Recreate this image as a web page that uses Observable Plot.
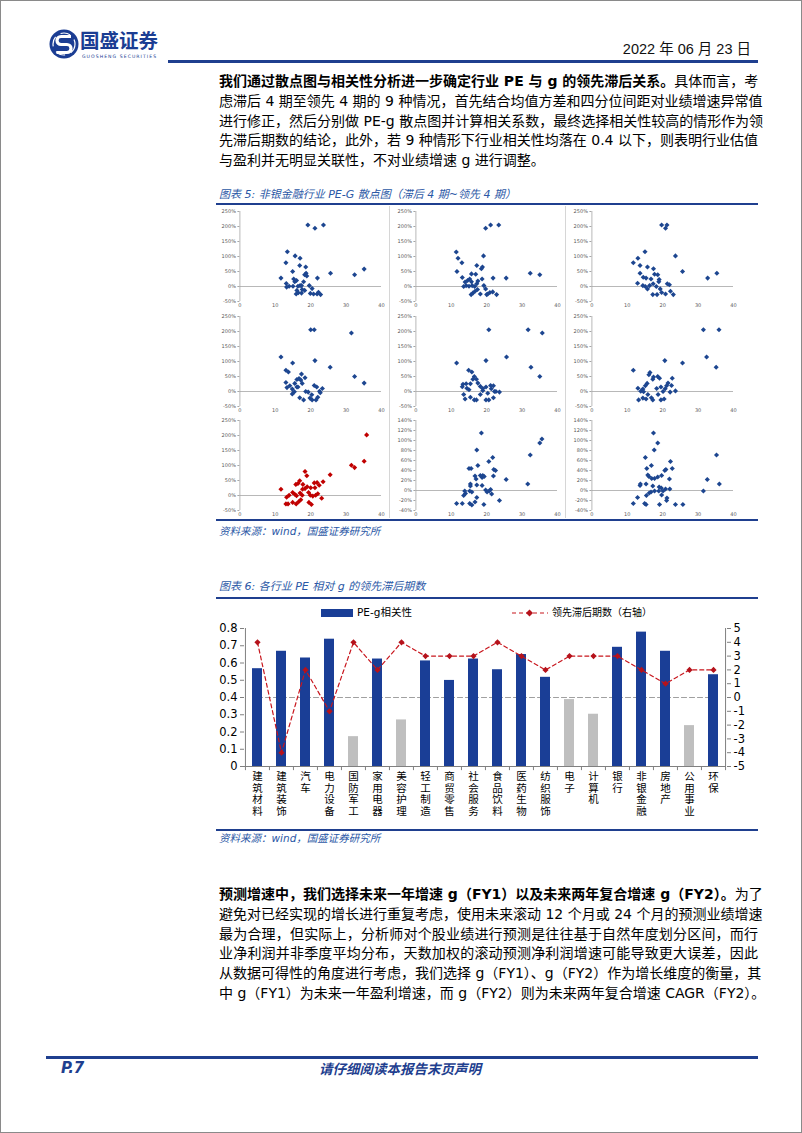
<!DOCTYPE html>
<html>
<head>
<meta charset="utf-8">
<script src="https://cdn.jsdelivr.net/npm/d3@7"></script>
<script src="https://cdn.jsdelivr.net/npm/@observablehq/plot@0.6"></script>
<style>
html,body{margin:0;padding:0;background:#fff;}
#page{position:relative;width:802px;height:1133px;box-sizing:border-box;border:1px solid #8a8a8a;overflow:hidden;font-family:"DejaVu Sans","Noto Sans CJK SC",sans-serif;color:#000;}
.a{position:absolute;white-space:nowrap;}
.hl{position:absolute;background:#1f3f8f;}
.para{position:absolute;left:218px;width:539px;font-size:14px;}
.para div{height:19.8px;line-height:19.8px;white-space:nowrap;text-align:justify;text-align-last:justify;}
.para div.last{text-align-last:left;}
.cap{position:absolute;left:218px;font-size:11px;font-style:italic;color:#2b58a6;line-height:14px;white-space:nowrap;}
#grid{position:absolute;left:213px;top:204px;display:grid;grid-template-columns:176px 176px 176px;grid-template-rows:105px 104px 104px;}
#grid svg, #bars svg{display:block;}
.vdiv{position:absolute;width:1px;background:#d6d6d6;top:205px;height:312px;}
</style>
</head>
<body>
<div id="page">
  <!-- header -->
  <svg class="a" style="left:48px;top:28px" width="30" height="30" viewBox="-15 -15 30 30">
    <circle r="14.5" fill="#1b3d93"/>
    <path d="M7,-7.5 H-3 A4,4 0 0 0 -3,0.5 H3 A4,4 0 0 1 3,8.5 H-7.5" fill="none" stroke="#fff" stroke-width="3.2"/>
    <circle r="11" fill="none" stroke="#fff" stroke-width="1.2" stroke-dasharray="10,6"/>
  </svg>
  <div class="a" style="left:79px;top:29px;font-family:'Noto Sans CJK SC';font-weight:bold;font-size:19.5px;line-height:20px;color:#1b3d93;">国盛证券</div>
  <div class="a" style="left:81px;top:53px;font-size:4.6px;letter-spacing:1.05px;color:#1b3d93;line-height:5px;">GUOSHENG SECURITIES</div>
  <div class="a" style="right:50px;top:39px;font-family:'Liberation Sans','Noto Sans CJK SC';font-size:14.5px;line-height:18px;color:#111;">2022 年 06 月 23 日</div>
  <div class="hl" style="left:167px;top:59px;width:590px;height:2.5px;"></div>

  <!-- paragraph 1 -->
  <div class="para" style="top:71px;">
    <div><b>我们通过散点图与相关性分析进一步确定行业 PE 与 g 的领先滞后关系。</b>具体而言，考</div>
    <div>虑滞后 4 期至领先 4 期的 9 种情况，首先结合均值方差和四分位间距对业绩增速异常值</div>
    <div>进行修正，然后分别做 PE-g 散点图并计算相关系数，最终选择相关性较高的情形作为领</div>
    <div>先滞后期数的结论，此外，若 9 种情形下行业相关性均落在 0.4 以下，则表明行业估值</div>
    <div class="last">与盈利并无明显关联性，不对业绩增速 g 进行调整。</div>
  </div>

  <!-- figure 5 -->
  <div class="cap" style="top:187px;">图表 5: 非银金融行业 PE-G 散点图（滞后 4 期~领先 4 期）</div>
  <div class="hl" style="left:215px;top:202px;width:542px;height:2px;"></div>
  <div class="vdiv" style="left:388px;"></div>
  <div class="vdiv" style="left:564px;"></div>
  <div id="grid"></div>
  <div class="hl" style="left:215px;top:518px;width:542px;height:1.5px;"></div>
  <div class="cap" style="top:523px;font-size:10.5px;">资料来源：wind，国盛证券研究所</div>

  <!-- figure 6 -->
  <div class="cap" style="top:579px;">图表 6: 各行业 PE 相对 g 的领先滞后期数</div>
  <div class="hl" style="left:215px;top:596px;width:542px;height:2px;"></div>
  <div class="a" style="left:319.5px;top:608px;width:32.5px;height:7.5px;background:#1a3e96;"></div>
  <div class="a" style="left:356px;top:604px;font-size:10.5px;line-height:15px;">PE-g相关性</div>
  <svg class="a" style="left:510px;top:605px" width="38" height="14">
    <line x1="1" y1="7" x2="37" y2="7" stroke="#c8161d" stroke-width="1.2" stroke-dasharray="4,3"/>
    <path d="M18.5,3.5 L22,7 L18.5,10.5 L15,7 Z" fill="#b5121b"/>
  </svg>
  <div class="a" style="left:551px;top:604px;font-size:10px;line-height:15px;">领先滞后期数（右轴）</div>
  <div id="bars" class="a" style="left:215px;top:620px;"></div>
  <div class="hl" style="left:215px;top:828px;width:542px;height:1.5px;"></div>
  <div class="cap" style="top:830px;font-size:10.5px;">资料来源：wind，国盛证券研究所</div>

  <!-- paragraph 2 -->
  <div class="para" style="top:884px;">
    <div><b>预测增速中，我们选择未来一年增速 g（FY1）以及未来两年复合增速 g（FY2）。</b>为了</div>
    <div>避免对已经实现的增长进行重复考虑，使用未来滚动 12 个月或 24 个月的预测业绩增速</div>
    <div>最为合理，但实际上，分析师对个股业绩进行预测是往往基于自然年度划分区间，而行</div>
    <div>业净利润并非季度平均分布，天数加权的滚动预测净利润增速可能导致更大误差，因此</div>
    <div>从数据可得性的角度进行考虑，我们选择 g（FY1）、g（FY2）作为增长维度的衡量，其</div>
    <div class="last">中 g（FY1）为未来一年盈利增速，而 g（FY2）则为未来两年复合增速 CAGR（FY2）。</div>
  </div>

  <!-- footer -->
  <div class="hl" style="left:45px;top:1055px;width:712px;height:2.5px;"></div>
  <div class="a" style="left:60px;top:1058px;font-size:15px;font-weight:bold;font-style:italic;color:#1f3f8f;line-height:18px;">P.7</div>
  <div class="a" style="left:318px;top:1058px;font-family:'Noto Sans CJK SC';font-size:13.5px;font-weight:bold;font-style:italic;color:#1f3f8f;line-height:18px;">请仔细阅读本报告末页声明</div>
</div>

<script>
// ---------- Figure 6 data ----------
const categories = ["建筑材料","建筑装饰","汽车","电力设备","国防军工","家用电器","美容护理","轻工制造","商贸零售","社会服务","食品饮料","医药生物","纺织服饰","电子","计算机","银行","非银金融","房地产","公用事业","环保"];
const correlation = [0.567,0.668,0.629,0.738,0.173,0.623,0.270,0.612,0.499,0.623,0.561,0.649,0.517,0.388,0.303,0.691,0.779,0.668,0.237,0.532];
const leadLag = [4,-4,2,-1,4,2,4,3,3,3,4,3,2,3,3,3,2,1,2,2];
const leftTicks = [0,0.1,0.2,0.3,0.4,0.5,0.6,0.7,0.8];
const rightTicks = [-5,-4,-3,-2,-1,0,1,2,3,4,5];
const threshold = 0.4;

// ---------- Figure 5 data: [PE, g(%)] per panel, 滞后4期 ... 领先4期 ----------
const panelLag4 = [[19.2,205],[21.2,194],[23.6,205],[13.4,116],[13.0,79],[15.6,102],[17.0,94],[16.9,70],[18.6,65],[11.6,28],[14.9,50],[18.7,44],[18.3,39],[18.9,35],[21.9,28],[25.6,44],[32.4,39],[35.1,58],[15.2,25],[15.5,16],[16.0,20],[13.1,10],[13.2,-2],[13.9,1],[15.0,1],[16.4,1],[17.0,3],[17.4,3],[17.6,-10],[15.9,-25],[16.5,-21],[17.4,-22],[18.0,16],[19.6,3],[20.4,-7],[19.9,-23],[20.8,-25],[21.8,-25],[22.2,-19],[22.8,-27],[18.3,-13],[16.1,-13]];
const panelLag3 = [[19.7,194],[21.1,205],[23.4,205],[11.4,115],[11.9,94],[13.0,79],[19.1,102],[17.2,70],[18.8,65],[18.5,59],[11.6,50],[13.1,30],[15.7,42],[16.9,41],[21.8,28],[25.5,28],[32.3,44],[35.0,39],[13.9,15],[14.6,20],[15.2,25],[15.7,16],[13.5,0],[14.2,3],[15.0,1],[15.9,3],[16.6,0],[17.2,9],[17.5,18],[18.7,25],[19.2,3],[19.7,-8],[18.2,-25],[20.0,-27],[20.9,-20],[21.7,-18],[22.8,-27],[16.1,-22],[16.7,-16],[17.4,-10],[20.3,-25],[15.6,-27]];
const panelLag2 = [[19.7,205],[20.8,194],[21.2,205],[13.0,94],[11.7,79],[15.0,116],[13.6,70],[15.7,65],[17.4,59],[23.6,102],[25.6,50],[32.7,28],[35.3,44],[13.6,44],[14.5,31],[15.3,28],[16.7,25],[17.7,41],[18.6,39],[19.0,23],[12.9,11],[14.4,3],[15.1,0],[16.3,3],[17.3,9],[18.2,0],[18.9,16],[19.3,-8],[17.2,-27],[18.4,-27],[19.7,-20],[20.8,-25],[21.3,9],[21.9,6],[22.2,-16],[23.0,-27],[15.7,-8]];
const panelLag1 = [[20.0,206],[21.0,206],[31.5,195],[11.6,115],[14.9,95],[21.2,103],[25.5,81],[32.4,50],[35.1,28],[13.0,71],[13.7,65],[17.4,58],[18.4,46],[13.0,30],[15.5,27],[16.1,40],[16.7,43],[17.2,38],[17.6,27],[13.3,13],[14.1,19],[14.8,8],[15.4,-1],[16.1,15],[14.8,-8],[18.6,0],[19.3,-2],[20.3,-11],[21.0,20],[21.7,15],[22.5,1],[23.3,10],[22.7,-4],[16.9,-21],[18.0,-28],[19.8,-22],[20.4,-28],[21.5,-28],[22.0,-19],[16.4,15]];
const panelLag0 = [[20.6,206],[31.7,206],[35.7,195],[11.5,95],[19.8,103],[25.6,115],[32.5,81],[35.0,50],[14.9,71],[15.8,65],[16.5,50],[16.1,41],[17.1,41],[13.3,24],[14.2,26],[13.1,16],[15.4,26],[17.5,28],[18.2,17],[18.9,10],[19.8,15],[21.1,20],[21.9,19],[21.3,9],[22.2,0],[23.6,-2],[22.6,0],[13.5,-10],[13.9,-25],[15.4,-19],[16.5,-28],[17.1,-28],[19.8,-28],[20.6,-28],[21.9,-21],[20.3,-6],[18.9,3],[15.0,6],[14.4,11],[18.2,-10]];
const panelLead1 = [[31.5,206],[35.9,206],[11.7,71],[20.6,103],[25.6,95],[32.4,115],[35.1,81],[16.4,63],[16.1,56],[17.2,41],[17.4,48],[18.6,50],[19.1,44],[15.6,27],[15.1,19],[14.4,8],[13.0,11],[13.8,1],[14.6,-1],[13.2,-28],[14.4,-22],[15.8,-10],[15.3,-25],[16.8,-21],[17.2,-28],[18.3,10],[19.5,15],[20.1,0],[20.7,9],[21.1,19],[21.5,28],[22.5,20],[22.7,44],[22.1,-2],[23.6,2],[19.5,-28],[20.4,-25],[18.7,-10]];
const panelLead2 = [[35.8,202],[35.1,114],[31.5,101],[32.4,93],[25.5,69],[11.6,21],[18.4,80],[18.9,66],[23.5,46],[16.9,49],[16.4,40],[15.8,37],[17.8,37],[19.0,29],[21.0,42],[21.8,43],[22.4,34],[20.0,26],[21.2,26],[17.7,21],[18.4,23],[19.4,10],[14.9,10],[15.5,4],[16.0,-1],[17.0,8],[17.6,1],[19.9,1],[20.6,-2],[21.4,1],[22.0,6],[23.1,-9],[13.2,-6],[13.9,1],[13.0,-28],[13.6,-28],[14.9,-23],[15.9,-28],[16.6,-21],[17.2,-14],[19.5,-23],[20.2,-30]];
const panelLead3 = [[18.5,115],[17.2,81],[17.5,50],[35.6,103],[35.0,95],[32.3,71],[31.6,13],[21.7,66],[20.6,58],[22.0,42],[22.5,40],[21.9,29],[25.5,22],[15.0,44],[15.6,44],[16.7,29],[17.0,23],[18.9,30],[18.7,26],[19.3,28],[18.2,30],[15.4,13],[15.4,9],[17.2,11],[18.7,10],[13.5,-10],[14.0,-6],[13.8,-1],[15.2,-1],[15.8,-3],[17.2,-14],[19.7,1],[20.1,-3],[20.7,-1],[21.1,2],[21.4,-7],[23.6,-20],[11.5,-26],[13.1,-26],[15.2,-26],[15.8,-29],[16.7,-23],[19.2,-28]];
const panelLead4 = [[17.4,115],[17.6,81],[18.6,95],[16.8,50],[15.1,66],[15.5,44],[15.8,31],[16.1,28],[16.9,24],[17.7,24],[18.6,27],[13.7,13],[13.6,10],[15.3,13],[17.2,9],[15.4,-10],[12.9,-14],[11.7,-26],[14.9,-26],[15.3,-28],[16.7,-3],[16.2,-5],[17.7,-1],[19.0,7],[19.6,5],[19.7,30],[18.9,-1],[19.7,-9],[20.6,40],[20.9,42],[21.2,-15],[21.1,-20],[21.9,23],[22.0,3],[22.2,58],[22.7,44],[20.8,3],[20.1,-1],[19.1,-28],[23.6,-28],[25.7,-28],[31.5,-1],[32.6,22],[36.0,13],[35.2,71]];
const peTicks = [0,10,20,30,40];
const gTicksWide = [-50,0,50,100,150,200,250];
const gTicksNarrow = [-40,-20,0,20,40,60,80,100,120,140];

const BLUE = "#1a3e96", GRAY = "#bfbfbf", RED = "#c8161d", DOT_BLUE = "#1d4690", DOT_RED = "#c00000";

// ---------- scatter panels ----------
const panels = [
  [panelLag4, gTicksWide, DOT_BLUE], [panelLag3, gTicksWide, DOT_BLUE], [panelLag2, gTicksWide, DOT_BLUE],
  [panelLag1, gTicksWide, DOT_BLUE], [panelLag0, gTicksWide, DOT_BLUE], [panelLead1, gTicksWide, DOT_BLUE],
  [panelLead2, gTicksWide, DOT_RED], [panelLead3, gTicksNarrow, DOT_BLUE], [panelLead4, gTicksNarrow, DOT_BLUE]
];
const grid = document.getElementById("grid");
panels.forEach(([data, ticks, color]) => {
  const p = Plot.plot({
    width: 176, height: 104,
    marginLeft: 25.4, marginRight: 9, marginTop: 6, marginBottom: 8,
    style: {background: "transparent", fontFamily: "DejaVu Sans", overflow: "visible"},
    x: {domain: [0, 40]},
    y: {domain: [ticks[0], ticks[ticks.length - 1]]},
    marks: [
      Plot.ruleY([0], {stroke: "#a6a6a6", strokeWidth: 0.8}),
      Plot.ruleX([0], {stroke: "#a6a6a6", strokeWidth: 0.8}),
      Plot.axisY(ticks, {label: null, tickSize: 2, tickPadding: 2, tickFormat: d => d + "%", fontSize: 5, stroke: "#a6a6a6", fill: "#595959"}),
      Plot.axisX(peTicks, {label: null, tickSize: 0, tickPadding: 2, tickFormat: d => String(d), fontSize: 5, fill: "#595959"}),
      Plot.dot(data, {x: d => d[0], y: d => d[1], symbol: "diamond2", r: 2.3, fill: color, stroke: null})
    ]
  });
  grid.appendChild(p);
});

// ---------- bar + line chart ----------
const barW = 540, barML = 28, barMR = 30;
const bandStep = (barW - barML - barMR) / categories.length;
const lagToLeft = v => (v + 5) / 10 * 0.8;
const rows = categories.map((c, i) => ({c, r: correlation[i], p: leadLag[i]}));
const bars = Plot.plot({
  width: barW, height: 204,
  marginLeft: barML, marginRight: barMR, marginTop: 7, marginBottom: 59,
  style: {background: "transparent", fontFamily: "DejaVu Sans", color: "#000", overflow: "visible"},
  x: {domain: categories, paddingInner: 0.57, paddingOuter: 0.285, axis: null},
  y: {domain: [0, 0.8]},
  marks: [
    Plot.line([categories[0], categories[categories.length - 1]], {x: d => d, y: () => threshold, stroke: "#a0a0a0", strokeWidth: 1.2, strokeDasharray: "5,3"}),
    Plot.barY(rows.filter(d => d.r >= threshold), {x: "c", y: "r", fill: BLUE}),
    Plot.barY(rows.filter(d => d.r < threshold), {x: "c", y: "r", fill: GRAY}),
    Plot.ruleY([0], {stroke: "#808080"}),
    Plot.ruleX([categories[0]], {x: d => d, dx: -bandStep / 2, y1: 0, y2: 0.8, stroke: "#808080"}),
    Plot.ruleX([categories[categories.length - 1]], {x: d => d, dx: bandStep / 2, y1: 0, y2: 0.8, stroke: "#808080"}),
    Plot.ruleX(categories, {x: d => d, dx: -bandStep / 2, y1: 0, y2: -0.024, stroke: "#808080"}),
    Plot.ruleX([categories[categories.length - 1]], {x: d => d, dx: bandStep / 2, y1: 0, y2: -0.024, stroke: "#808080"}),
    Plot.axisY(leftTicks, {anchor: "left", label: null, tickSize: 4, tickPadding: 3, tickFormat: d => d === 0 ? "0" : d.toFixed(1), fontSize: 11.5, stroke: "#808080", fill: "#000"}),
    Plot.axisY(rightTicks.map(lagToLeft), {anchor: "right", label: null, tickSize: 4, tickPadding: 3, tickFormat: d => String(Math.round(d / 0.08 - 5)), fontSize: 11.5, stroke: "#808080", fill: "#000"}),
    Plot.line(rows, {x: "c", y: d => lagToLeft(d.p), stroke: RED, strokeWidth: 1.2, strokeDasharray: "4,3"}),
    Plot.dot(rows, {x: "c", y: d => lagToLeft(d.p), symbol: "diamond2", r: 2.8, fill: "#b5121b", stroke: null}),
    Plot.text(categories, {x: d => d, y: () => 0, text: d => [...d].join("\n"), lineAnchor: "top", dy: 5, lineHeight: 1.12, fontSize: 10.5, fontFamily: "Noto Sans CJK SC", fill: "#000"})
  ]
});
document.getElementById("bars").appendChild(bars);
</script>
</body>
</html>
